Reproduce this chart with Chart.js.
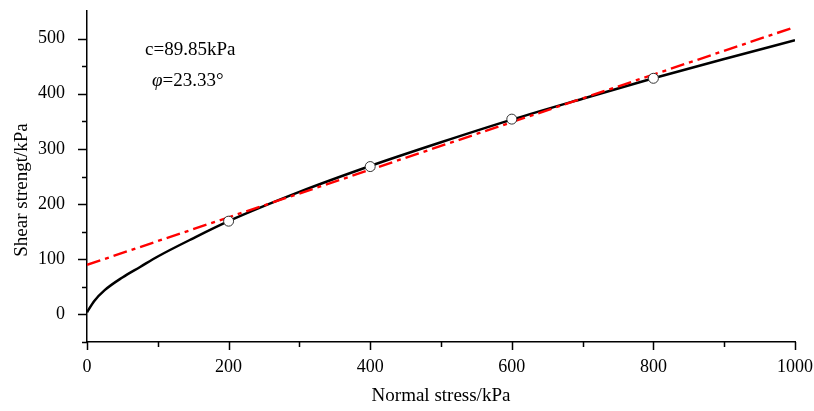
<!DOCTYPE html>
<html>
<head>
<meta charset="utf-8">
<script src="https://cdn.jsdelivr.net/npm/chart.js@4.4.0/dist/chart.umd.min.js"></script>
<style>
  html, body { margin: 0; padding: 0; background: #fff; }
  #wrap { width: 814px; height: 411px; }
</style>
</head>
<body>
<div id="wrap"><canvas id="chart"></canvas></div>
<script>
// Values
const stress = [0, 10, 25, 50, 75, 100, 150, 200, 300, 400, 500, 600, 700, 800, 900, 1000];
const fittedCurve = [4, 24, 44, 67, 86, 105, 138, 169, 222, 269, 312, 353, 391, 428, 463, 497];

const testStress = [200, 400, 600, 800];
const testShear = [169, 268, 354, 428];

// Mohr-Coulomb strength line, c = 89.85 kPa, phi = 23.33 deg
const lineStress = [0, 1000];
const lineShear = [89.85, 521];

const xTickLabels = [0, 200, 400, 600, 800, 1000];
const yTickLabels = [0, 100, 200, 300, 400, 500];

const toPoints = (xs, ys) => xs.map((x, i) => ({ x: x, y: ys[i] }));

const serif = '"Liberation Serif", "Times New Roman", serif';

// draws minor/major tick marks outside the axes, the y title and the c / phi labels
const extras = {
    id: 'extras',
    afterDraw(chart) {
        const ctx = chart.ctx;
        const xs = chart.scales.x;
        const ys = chart.scales.y;
        const area = chart.chartArea;
        ctx.save();
        ctx.strokeStyle = '#000';
        ctx.lineWidth = 1.5;
        ctx.beginPath();
        for (let v = 0; v <= 1000; v += 100) {
            const px = Math.round(xs.getPixelForValue(v)) + 0.5;
            const len = xTickLabels.includes(v) ? 8 : 5;
            ctx.moveTo(px, area.bottom);
            ctx.lineTo(px, area.bottom + len);
        }
        for (let v = -50; v <= 500; v += 50) {
            const py = Math.round(ys.getPixelForValue(v)) + 0.5;
            const len = yTickLabels.includes(v) ? 9 : 5;
            ctx.moveTo(area.left, py);
            ctx.lineTo(area.left - len, py);
        }
        ctx.stroke();

        ctx.fillStyle = '#000';
        ctx.textBaseline = 'alphabetic';
        ctx.font = '19px ' + serif;
        ctx.fillText('c=89.85kPa', 145, 55);
        ctx.font = 'italic 19px ' + serif;
        ctx.fillText('\u03c6', 152, 86);
        const w = ctx.measureText('\u03c6').width;
        ctx.font = '19px ' + serif;
        ctx.fillText('=23.33\u00b0', 152 + w, 86);

        // y axis title
        ctx.translate(22, 190);
        ctx.rotate(-Math.PI / 2);
        ctx.textAlign = 'center';
        ctx.textBaseline = 'middle';
        ctx.font = '19px ' + serif;
        ctx.fillText('Shear strengt/kPa', 0, 0);
        ctx.restore();
    }
};

const ctx = document.getElementById('chart').getContext('2d');
new Chart(ctx, {
    type: 'scatter',
    data: {
        datasets: [
            {
                label: 'Test data',
                data: toPoints(testStress, testShear),
                backgroundColor: '#fff',
                borderColor: '#333',
                borderWidth: 1,
                pointRadius: 5,
                showLine: false,
                order: 1
            },
            {
                label: 'Strength line',
                data: toPoints(lineStress, lineShear),
                showLine: true,
                borderColor: '#ff0000',
                borderWidth: 2.4,
                borderDash: [14, 5, 4, 5],
                pointRadius: 0,
                order: 2
            },
            {
                label: 'Fitted curve',
                data: toPoints(stress, fittedCurve),
                showLine: true,
                borderColor: '#000',
                borderWidth: 2.5,
                cubicInterpolationMode: 'monotone',
                pointRadius: 0,
                order: 3
            }
        ]
    },
    options: {
        responsive: true,
        maintainAspectRatio: false,
        animation: false,
        layout: { padding: { top: 11, right: 19, left: 0, bottom: 0 } },
        plugins: {
            legend: { display: false },
            tooltip: { enabled: false }
        },
        scales: {
            x: {
                type: 'linear',
                min: 0,
                max: 1000,
                grid: { display: false },
                border: { display: true, color: '#000', width: 1.5 },
                ticks: {
                    padding: 6,
                    color: '#000',
                    font: { family: serif, size: 18 },
                    maxRotation: 0,
                    autoSkip: false,
                    callback: v => String(v)
                },
                afterBuildTicks: s => { s.ticks = xTickLabels.map(v => ({ value: v })); },
                title: {
                    display: true,
                    text: 'Normal stress/kPa',
                    color: '#000',
                    font: { family: serif, size: 19 },
                    padding: { top: 16 }
                },
                afterFit: s => { s.height = 69; s.paddingLeft = 0; s.paddingRight = 0; }
            },
            y: {
                type: 'linear',
                min: -50,
                max: 550,
                grid: { display: false },
                border: { display: true, color: '#000', width: 1.5 },
                ticks: {
                    padding: 14,
                    color: '#000',
                    font: { family: serif, size: 18 },
                    autoSkip: false,
                    callback: v => String(v)
                },
                afterBuildTicks: s => { s.ticks = yTickLabels.map(v => ({ value: v })); },
                afterFit: s => { s.width = 87; s.paddingTop = 0; s.paddingBottom = 0; }
            }
        }
    },
    plugins: [extras]
});
</script>
</body>
</html>
